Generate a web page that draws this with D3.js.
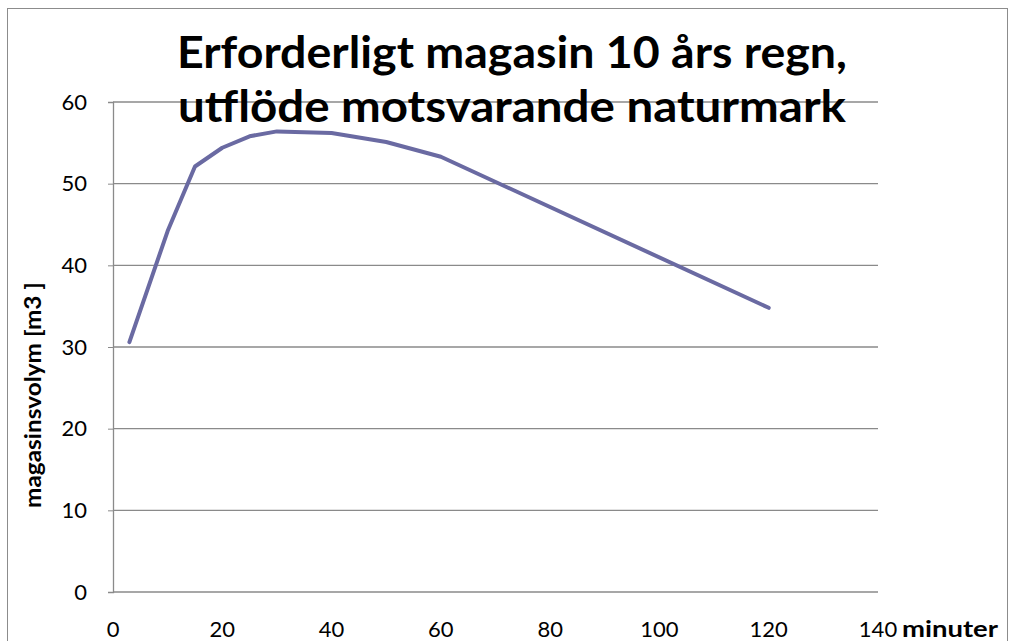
<!DOCTYPE html>
<html>
<head>
<meta charset="utf-8">
<script src="https://cdn.jsdelivr.net/npm/d3@7"></script>
<style>
  body { margin: 0; background: #fff; }
  text { font-family: Lato, "Open Sans", sans-serif; fill: #000; }
</style>
</head>
<body>
<div id="chart"></div>
<script>
// data
const minutes = [3, 10, 15, 20, 25, 30, 40, 50, 60, 120];
const volume = [30.6, 44.2, 52.1, 54.4, 55.8, 56.4, 56.2, 55.1, 53.3, 34.8];
const xTicks = [0, 20, 40, 60, 80, 100, 120, 140];
const yTicks = [0, 10, 20, 30, 40, 50, 60];
const titleLines = ["Erforderligt magasin 10 års regn,", "utflöde motsvarande naturmark"];

const W = 1018, H = 641;
const margin = {top: 102, right: 140, bottom: 49, left: 113},
width = W - margin.left - margin.right,
height = H - margin.top - margin.bottom;

const root = d3.select("#chart")
.append("svg")
.attr("width", W)
.attr("height", H);

// outer chart frame
root.append("rect")
.attr("x", 7.5).attr("y", 8.5)
.attr("width", 1000).attr("height", 660)
.attr("fill", "none")
.attr("stroke", "#8c8c8c")
.attr("stroke-width", 1);

const svg = root.append("g")
.attr("transform", `translate(${margin.left},${margin.top})`);

const x = d3.scaleLinear().domain([0, 140]).range([0, width]);
const y = d3.scaleLinear().domain([0, 60]).range([height, 0]);

// gridlines
svg.append("g")
.selectAll("line")
.data(yTicks)
.join("line")
.attr("x1", 0).attr("x2", width)
.attr("y1", d => y(d)).attr("y2", d => y(d))
.attr("stroke", "#8a8a8a")
.attr("stroke-width", 1.3);

// y axis
const yAxis = svg.append("g")
.call(d3.axisLeft(y).tickValues(yTicks).tickSize(5).tickPadding(21).tickFormat(d3.format("d")));
yAxis.select(".domain").attr("stroke", "#8a8a8a").attr("stroke-width", 1.3);
yAxis.selectAll(".tick line").attr("stroke", "#8a8a8a");
yAxis.selectAll("text")
.style("font-size", "22px")
.style("font-family", "Lato, sans-serif")
.attr("fill", "#000");

// x labels (no axis line drawn beyond the 0 gridline)
svg.append("g")
.selectAll("text")
.data(xTicks)
.join("text")
.attr("x", d => x(d))
.attr("y", height + 45)
.attr("text-anchor", "middle")
.style("font-size", "22px")
.text(d => d);

root.append("text")
.attr("x", 902)
.attr("y", height + margin.top + 45)
.attr("textLength", 96)
.attr("lengthAdjust", "spacingAndGlyphs")
.style("font-size", "23px")
.style("font-weight", "bold")
.text("minuter");

// y axis title
root.append("text")
.attr("transform", "translate(41,395) rotate(-90)")
.attr("text-anchor", "middle")
.attr("textLength", 226)
.attr("lengthAdjust", "spacingAndGlyphs")
.style("font-size", "22px")
.style("font-weight", "bold")
.text("magasinsvolym [m3 ]");

// the line
const pts = minutes.map((m, i) => ({m: m, v: volume[i]}));
svg.append("path")
.datum(pts)
.attr("fill", "none")
.attr("stroke", "#6a6aa2")
.attr("stroke-width", 4)
.attr("stroke-linejoin", "round")
.attr("stroke-linecap", "round")
.attr("d", d3.line().x(d => x(d.m)).y(d => y(d.v)));

// title
root.append("g")
.selectAll("text")
.data(titleLines)
.join("text")
.attr("x", 512)
.attr("y", (d, i) => 68 + i * 54)
.attr("text-anchor", "middle")
.attr("textLength", (d, i) => i == 0 ? 670 : 668)
.attr("lengthAdjust", "spacingAndGlyphs")
.style("font-size", "43px")
.style("font-weight", "bold")
.text(d => d);
</script>
</body>
</html>
